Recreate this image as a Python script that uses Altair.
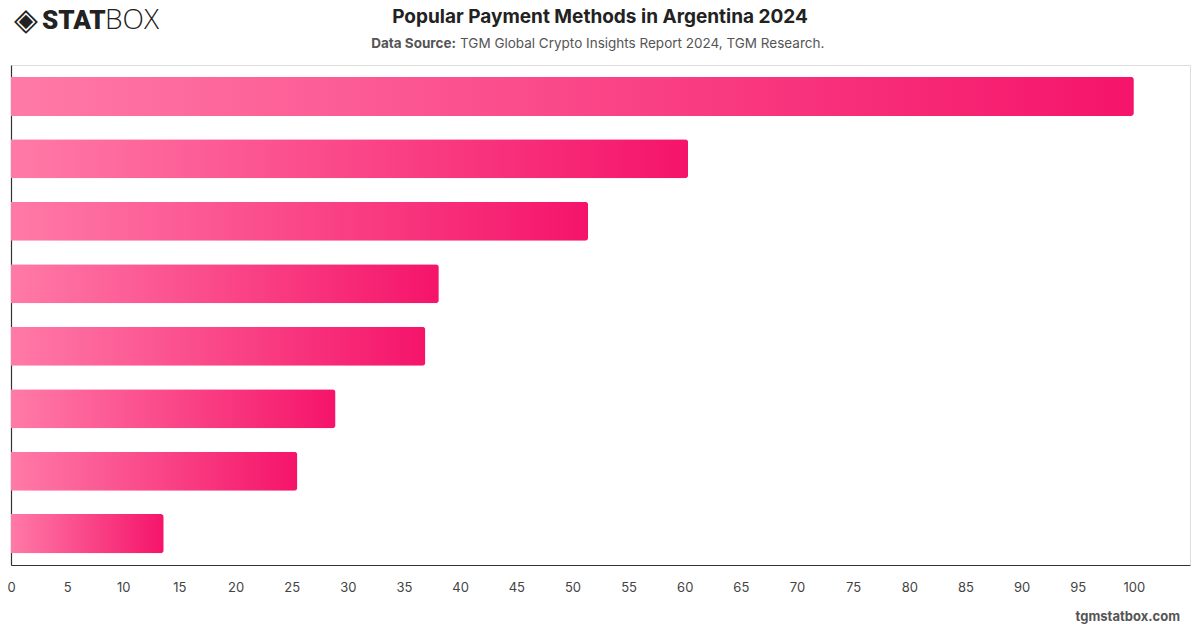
import altair as alt
import pandas as pd

categories = ["Bank transfer", "Debit card", "Credit card", "Mobile wallet",
              "Cash", "Digital banking app", "Crypto", "Other"]
values = [100, 60.3, 51.4, 38.1, 36.9, 28.9, 25.5, 13.6]
tick_values = list(range(0, 101, 5))

df = pd.DataFrame({"method": categories, "share": values})

W, H = 1179, 500
FONT = "Inter"

gradient = alt.Gradient(
    gradient="linear",
    stops=[alt.GradientStop(color="#ff7aa7", offset=0),
           alt.GradientStop(color="#f5146a", offset=1)],
    x1=0, x2=1, y1=0, y2=0,
)

bars = alt.Chart(df).mark_bar(color=gradient, cornerRadiusEnd=3).encode(
    x=alt.X("share:Q", scale=alt.Scale(domain=[0, 105], nice=False),
            axis=alt.Axis(values=tick_values, title=None, grid=False, ticks=False,
                          labelPadding=16, labelFontSize=13, labelColor="#444444",
                          labelFont=FONT, domainColor="#333333", domainWidth=1.2,
                          labelFlush=False)),
    y=alt.Y("method:N", sort=categories,
            scale=alt.Scale(paddingInner=0.375, paddingOuter=0.19),
            axis=alt.Axis(title=None, labels=False, ticks=False, grid=False,
                          domainColor="#333333", domainWidth=1.2)),
)

def txt(text, x, y, size, weight="normal", color="#222222", align="center", font=FONT):
    return alt.Chart(pd.DataFrame({"t": [text]})).mark_text(
        align=align, baseline="middle", fontSize=size, fontWeight=weight,
        color=color, font=font,
    ).encode(text="t:N", x=alt.value(x), y=alt.value(y))

# positions relative to plot area (origin at 11, 65)
title = txt("Popular Payment Methods in Argentina 2024", 589, -48, 19, "bold", "#222222")
sub1 = txt("Data Source:", 445, -21, 13.5, "bold", "#555555", align="right")
sub2 = txt("TGM Global Crypto Insights Report 2024, TGM Research.", 449, -21, 13.5,
           "normal", "#555555", align="left")
logo_icon = txt("◈", 3, -44, 31, "bold", "#222222", align="left", font="DejaVu Sans")
logo_stat = txt("STAT", 31, -44, 26, 900, "#222222", align="left", font="Roboto")
logo_box = txt("BOX", 94, -44, 28, 300, "#222222", align="left", font="Open Sans")
footer = txt("tgmstatbox.com", 1169, 552, 13, "bold", "#555555", align="right")

chart = alt.layer(bars, title, sub1, sub2, logo_icon, logo_stat, logo_box, footer).properties(
    width=W, height=H,
    autosize=alt.AutoSizeParams(type="none"),
    padding={"left": 11, "top": 65, "right": 10, "bottom": 63},
).configure_view(stroke=None).configure(background="white")

chart.save("out.html", embed_options={"renderer": "svg", "actions": False})
